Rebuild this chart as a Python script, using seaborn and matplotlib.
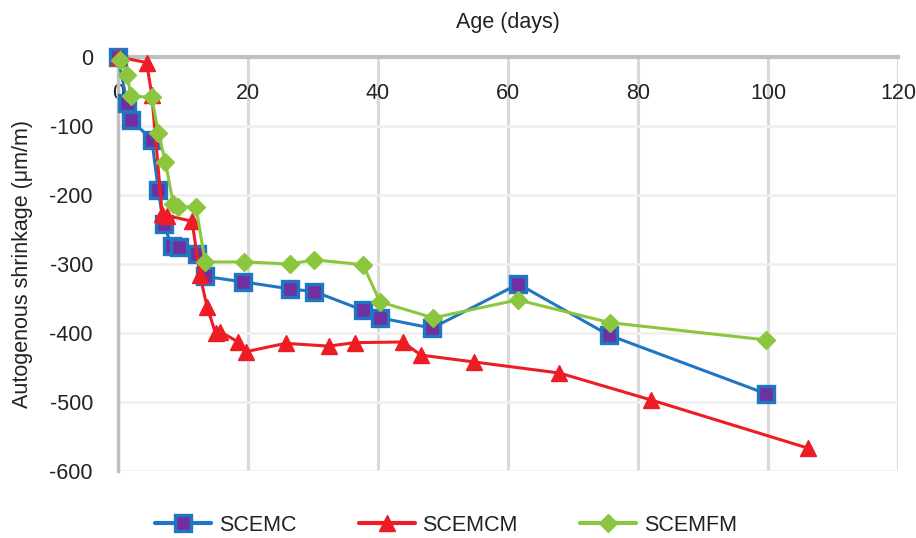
import matplotlib
matplotlib.use("Agg")
import matplotlib.pyplot as plt
import seaborn as sns
import pandas as pd
from matplotlib.lines import Line2D

# ---- data ----
scemc_x = [0, 1.4, 2.0, 5.2, 6.2, 7.0, 8.3, 9.4, 12.2, 13.4, 19.3, 26.4, 30.2, 37.7, 40.3, 48.3, 61.6, 75.5, 99.7]
scemc_y = [0, -67, -91, -120, -193, -242, -274, -275, -285, -318, -326, -336, -340, -367, -378, -393, -329, -403, -488]

scemcm_x = [0, 4.4, 5.2, 6.8, 7.6, 11.4, 12.6, 13.7, 15.0, 15.7, 18.5, 19.7, 25.8, 32.4, 36.4, 43.8, 46.6, 54.8, 67.9, 82.0, 106.2]
scemcm_y = [0, -8, -55, -228, -230, -238, -316, -362, -400, -398, -413, -427, -415, -419, -414, -413, -432, -442, -458, -497, -567]

scemfm_x = [0.3, 1.4, 2.0, 5.2, 6.2, 7.3, 8.5, 9.3, 12.0, 13.4, 19.4, 26.4, 30.2, 37.7, 40.3, 48.5, 61.5, 75.7, 99.7]
scemfm_y = [-4, -26, -57, -58, -110, -152, -213, -217, -217, -297, -297, -300, -294, -301, -355, -378, -352, -385, -410]

x_ticks = [0, 20, 40, 60, 80, 100, 120]
y_ticks = [0, -100, -200, -300, -400, -500, -600]
series_names = ["SCEMC", "SCEMCM", "SCEMFM"]

df = pd.concat([
    pd.DataFrame({"age": scemc_x, "val": scemc_y, "series": "SCEMC"}),
    pd.DataFrame({"age": scemcm_x, "val": scemcm_y, "series": "SCEMCM"}),
    pd.DataFrame({"age": scemfm_x, "val": scemfm_y, "series": "SCEMFM"}),
], ignore_index=True)

sns.set_theme(style="white")
plt.rcParams["font.family"] = ["Liberation Sans", "DejaVu Sans"]

fig = plt.figure(figsize=(9.16, 5.38), dpi=100)
ax = fig.add_axes([118/916, 1 - 471/538, (898-118)/916, (471-57)/538])

styles = {
    "SCEMC": dict(color="#1f77c4", marker="s", mfc="#7030a0", mec="#1f77c4", ms=11, mew=2.4),
    "SCEMCM": dict(color="#ee1c24", marker="^", mfc="#ee1c24", mec="#ee1c24", ms=12, mew=1),
    "SCEMFM": dict(color="#8cc63f", marker="D", mfc="#8cc63f", mec="#8cc63f", ms=9, mew=1),
}

for name in series_names:
    st = styles[name]
    sub = df[df.series == name]
    sns.lineplot(data=sub, x="age", y="val", ax=ax, sort=False, color=st["color"],
                 lw=2.2, marker=st["marker"], markersize=st["ms"],
                 markerfacecolor=st["mfc"], markeredgecolor=st["mec"],
                 markeredgewidth=st["mew"], zorder=3, clip_on=False)

ax.set_xlim(0, 120)
ax.set_ylim(-600, 0)
ax.set_xticks(x_ticks)
ax.set_yticks(y_ticks)
ax.set_xticklabels([str(v) for v in x_ticks])
ax.set_yticklabels([str(v) for v in y_ticks])

ax.xaxis.grid(True, color="#d9d9d9", lw=2.2)
ax.yaxis.grid(True, color="#f0f0f0", lw=2)
ax.set_axisbelow(True)

for s in ["bottom", "right"]:
    ax.spines[s].set_visible(False)
ax.spines["top"].set_color("#c0c0c0")
ax.spines["top"].set_linewidth(3)
ax.spines["left"].set_color("#c0c0c0")
ax.spines["left"].set_linewidth(2.5)

ax.xaxis.set_label_position("top")
ax.tick_params(axis="x", top=True, labeltop=True, bottom=False, labelbottom=False,
               length=0, pad=-34, labelsize=15.5, colors="#222222")
ax.tick_params(axis="y", length=0, pad=18, labelsize=15.5, colors="#222222")
ax.set_xlabel("Age (days)", fontsize=15.5, color="#222222", labelpad=21)
ax.set_ylabel("Autogenous shrinkage (μm/m)", fontsize=15.5, color="#222222", labelpad=12)

handles = []
for name in series_names:
    st = styles[name]
    handles.append(Line2D([0], [0], color=st["color"], lw=3, marker=st["marker"],
                          markersize=st["ms"], markerfacecolor=st["mfc"],
                          markeredgecolor=st["mec"], markeredgewidth=st["mew"]))
leg = fig.legend(handles, series_names, loc="lower center", ncol=3, frameon=False,
                 fontsize=15.5, bbox_to_anchor=(0.487, -0.028), columnspacing=2.9,
                 handlelength=2.6, handletextpad=0.35, borderpad=0.3)
for t in leg.get_texts():
    t.set_color("#222222")

fig.savefig("out.png", dpi=100)
